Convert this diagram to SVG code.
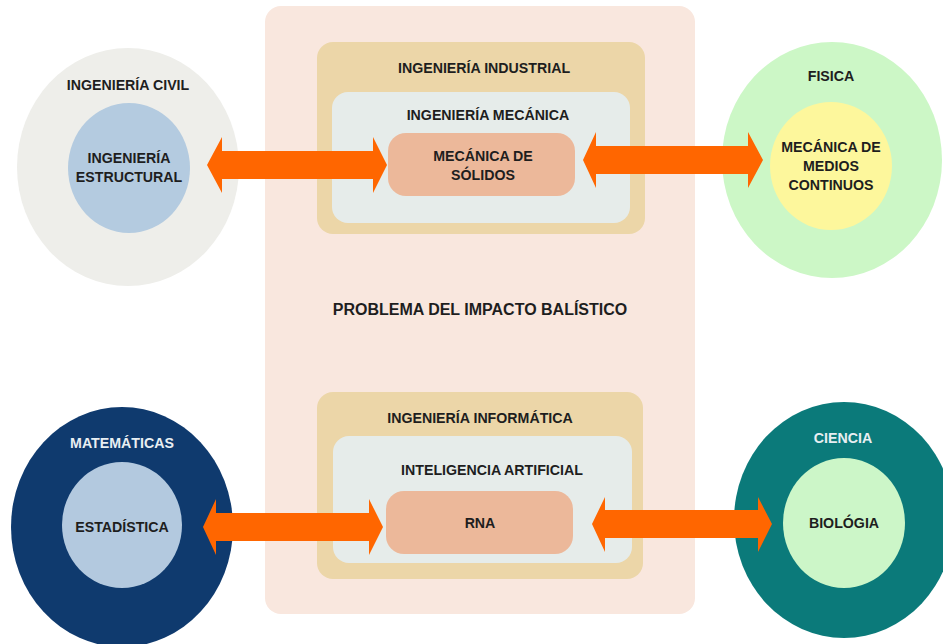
<svg xmlns="http://www.w3.org/2000/svg" width="943" height="644" viewBox="0 0 943 644">
  <style>
    text { font-family: "Liberation Sans", Arial, sans-serif; font-weight: bold; fill: #1e1e1e; text-anchor: middle; }
    .lbl { font-size: 14.2px; }
    .title { font-size: 16px; }
    .light { fill: #e8eef2; }
    .arrow { fill: #ff6600; }
    .outer-box { fill: #ecd6a8; }
    .mid-box { fill: #e6ecea; }
    .core-box { fill: #ecb89a; }
  </style>

  <rect width="943" height="644" fill="#ffffff"/>

  <!-- central problem panel -->
  <g id="problema">
    <rect x="265" y="6" width="430" height="608" rx="16" fill="#f9e7de"/>
    <text class="title" x="480" y="315">PROBLEMA DEL IMPACTO BALÍSTICO</text>
  </g>

  <!-- top stack: industrial > mecánica > sólidos -->
  <g id="ing-industrial">
    <rect class="outer-box" x="317" y="42" width="328" height="192" rx="16"/>
    <text class="lbl" x="484" y="73">INGENIERÍA INDUSTRIAL</text>
  </g>
  <g id="ing-mecanica">
    <rect class="mid-box" x="332" y="92" width="298" height="131" rx="16"/>
    <text class="lbl" x="488" y="120">INGENIERÍA MECÁNICA</text>
  </g>
  <g id="mecanica-solidos">
    <rect class="core-box" x="388" y="133" width="187" height="63" rx="18"/>
    <text class="lbl" x="483" y="161">MECÁNICA DE</text>
    <text class="lbl" x="483" y="180">SÓLIDOS</text>
  </g>

  <!-- bottom stack: informática > IA > RNA -->
  <g id="ing-informatica">
    <rect class="outer-box" x="317" y="392" width="326" height="187" rx="16"/>
    <text class="lbl" x="480" y="423">INGENIERÍA INFORMÁTICA</text>
  </g>
  <g id="inteligencia-artificial">
    <rect class="mid-box" x="333" y="436" width="299" height="127" rx="16"/>
    <text class="lbl" x="492" y="475">INTELIGENCIA ARTIFICIAL</text>
  </g>
  <g id="rna">
    <rect class="core-box" x="386" y="491" width="187" height="63" rx="18"/>
    <text class="lbl" x="480" y="528">RNA</text>
  </g>

  <!-- side disciplines -->
  <g id="ing-civil">
    <ellipse cx="128" cy="167" rx="111" ry="119" fill="#eeeeea"/>
    <ellipse cx="129" cy="168" rx="61" ry="65" fill="#b4cbe0"/>
    <text class="lbl" x="128" y="90">INGENIERÍA CIVIL</text>
    <text class="lbl" x="129" y="163">INGENIERÍA</text>
    <text class="lbl" x="129" y="182">ESTRUCTURAL</text>
  </g>

  <g id="fisica">
    <ellipse cx="832" cy="160" rx="110" ry="118" fill="#ccf7c6"/>
    <ellipse cx="831" cy="166" rx="61" ry="64" fill="#fdf79c"/>
    <text class="lbl" x="831" y="81">FISICA</text>
    <text class="lbl" x="831" y="152">MECÁNICA DE</text>
    <text class="lbl" x="831" y="171">MEDIOS</text>
    <text class="lbl" x="831" y="190">CONTINUOS</text>
  </g>

  <g id="matematicas">
    <ellipse cx="122" cy="527" rx="111" ry="120" fill="#0f3a6e"/>
    <ellipse cx="122" cy="525" rx="60" ry="63" fill="#b3c9df"/>
    <text class="lbl light" x="122" y="448">MATEMÁTICAS</text>
    <text class="lbl" x="122" y="532">ESTADÍSTICA</text>
  </g>

  <g id="ciencia">
    <ellipse cx="844" cy="520" rx="110" ry="118" fill="#0b7a7a"/>
    <ellipse cx="844" cy="523" rx="61" ry="65" fill="#ccf6c8"/>
    <text class="lbl light" x="843" y="443">CIENCIA</text>
    <text class="lbl" x="844" y="528">BIOLÓGIA</text>
  </g>

  <!-- double-headed block arrows -->
  <g id="connectors">
    <polygon class="arrow" points="207,165 222,137 222,151 373,151 373,137 387,165 373,193 373,179 222,179 222,193"/>
    <polygon class="arrow" points="583,160 596,132 596,146 748,146 748,132 763,160 748,188 748,174 596,174 596,188"/>
    <polygon class="arrow" points="203,527 216,499 216,513 369,513 369,499 383,527 369,555 369,541 216,541 216,555"/>
    <polygon class="arrow" points="592,524 605,497 605,510 758,510 758,497 772,524 758,552 758,538 605,538 605,552"/>
  </g>
</svg>
